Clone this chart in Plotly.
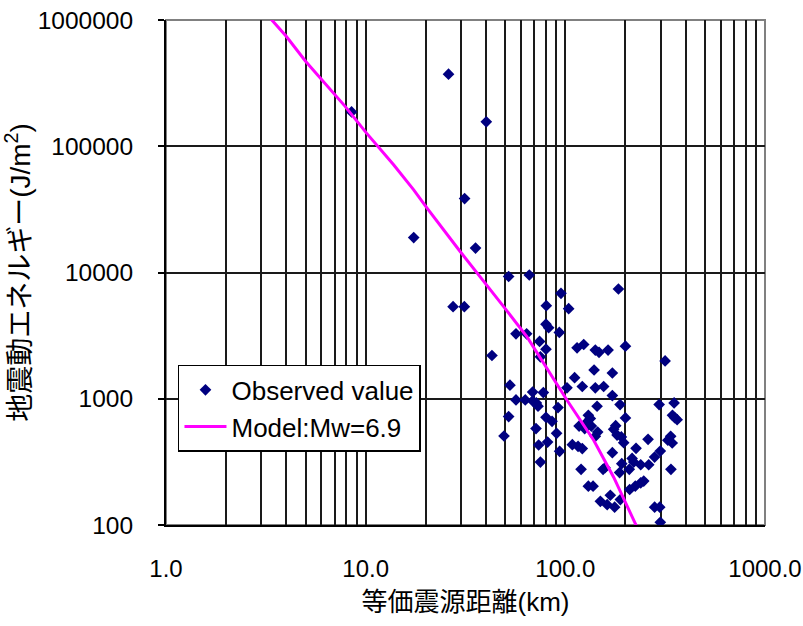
import plotly.graph_objects as go

# Observed ground-motion energy vs. equivalent hypocentral distance
obs_r = [8.5, 26.0, 40.2, 31.3, 17.4, 35.5, 27.4, 31.2, 52, 66,
         184.5, 95.1, 80.3, 103.9, 80.0, 82.5, 93.3, 56.6, 64.0, 74.3,
         80.0, 75.0, 42.9, 114.5, 123.6, 141.3, 147.5, 163.7, 200, 316,
         139.3, 172, 111.3, 121.6, 101.9, 141.3, 155.6, 52.8, 68.6, 77.6,
         172, 56.6, 63.0, 68.6, 71.6, 73.0, 91.9, 144.2, 188, 295,
         350.6, 52, 80, 85.8, 130.4, 133.4, 128.5, 117.2, 125, 135,
         145.2, 141.3, 178.7, 174.6, 181.6, 190.8, 196, 200, 71.3, 90.4,
         49.3, 259.6, 337, 326, 343, 81.5, 73.5, 108.4, 115.8, 121.6,
         226, 93.6, 172, 299, 280, 216, 220, 209, 238.5, 261.6,
         191.7, 187, 338, 119.9, 154.5, 158, 130.4, 137.7, 210, 224,
         238.5, 247, 149.8, 168, 162, 176.6, 188.6, 280, 297, 299,
         344, 353, 363, 75.0]
obs_e = [187000, 372000, 156000, 38500, 18900, 15600, 5360, 5360, 9300, 9550,
         7400, 6840, 5460, 5170, 3900, 3650, 3350, 3270, 3270, 2845,
         2470, 2150, 2200, 2530, 2690, 2430, 2330, 2430, 2610, 1995,
         1690, 1600, 1470, 1250, 1220, 1220, 1250, 1280, 1130, 1120,
         1060, 978, 978, 961, 927, 872, 851, 872, 899, 899,
         927, 722, 713, 663, 740, 696, 655, 608, 580, 608,
         545, 504, 612, 573, 516, 498, 449, 705, 580, 532,
         507, 477, 504, 469, 446, 454, 430, 433, 420, 403,
         405, 383, 374, 385, 345, 337, 315, 276, 300, 300,
         306, 260, 276, 276, 276, 284, 203, 203, 191, 203,
         216, 223, 154, 172, 145, 138.5, 159, 138.5, 138.5, 105,
         740, 708, 683, 315]

# Model curve (Mw = 6.9)
model_r = [3.2, 4.0, 5.0, 6.14, 7.89, 10.1, 13.8, 17.4, 20.3, 29.8,
           36.7, 49.1, 64.3, 77.8, 102, 138.7, 174.6, 228.6]
model_e = [1107000, 743000, 471000, 327000, 207000, 127000, 71300, 45200, 32400, 14600,
           9680, 5360, 3090, 1900, 973, 469, 239, 96]

x_tickvals = [m * 10 ** d for d in range(3) for m in range(1, 10)] + [1000]
x_ticktext = [("%.1f" % v) if v in (1, 10, 100, 1000) else "" for v in x_tickvals]
y_tickvals = [100, 1000, 10000, 100000, 1000000]
y_ticktext = ["100", "1000", "10000", "100000", "1000000"]

FONT = "Liberation Sans, Noto Sans CJK JP, sans-serif"

fig = go.Figure()
fig.add_trace(go.Scatter(
    x=obs_r, y=obs_e, mode="markers", name="Observed value",
    marker=dict(symbol="diamond", size=9, color="#000080", line=dict(width=0)),
))
fig.add_trace(go.Scatter(
    x=model_r, y=model_e, mode="lines", name="Model:Mw=6.9",
    line=dict(color="#FF00FF", width=3),
))

# plot-area frame (top/right edges)
fig.add_shape(type="rect", xref="paper", yref="paper", x0=0, y0=0, x1=1, y1=1,
              line=dict(color="#808080", width=2), layer="between")

fig.update_layout(
    width=803, height=626,
    margin=dict(l=166, r=38, t=20, b=101),
    paper_bgcolor="white", plot_bgcolor="white",
    font=dict(family=FONT, size=24, color="black"),
    showlegend=True,
    legend=dict(
        x=0.02, y=0.317, xanchor="left", yanchor="top",
        bgcolor="white", bordercolor="black", borderwidth=1.5,
        font=dict(family=FONT, size=26, color="black"),
        tracegroupgap=0, itemwidth=42,
    ),
    xaxis=dict(
        type="log", range=[0, 3], automargin=False,
        tickmode="array", tickvals=x_tickvals, ticktext=x_ticktext,
        ticklabeloverflow="allow",
        showgrid=True, gridcolor="#1a1a1a", gridwidth=1.5,
        showline=True, linecolor="black", linewidth=2,
        ticks="", ticklabelstandoff=21,
        tickfont=dict(size=24),
        title=dict(text="等価震源距離(km)", font=dict(size=26), standoff=12),
        zeroline=False,
    ),
    yaxis=dict(
        type="log", range=[2, 6], automargin=False,
        tickmode="array", tickvals=y_tickvals, ticktext=y_ticktext,
        ticklabeloverflow="allow",
        showgrid=True, gridcolor="#1a1a1a", gridwidth=1.5,
        showline=True, linecolor="black", linewidth=2,
        ticks="outside", ticklen=6, tickwidth=2, tickcolor="black",
        ticklabelstandoff=20,
        tickfont=dict(size=24.5),
        title=dict(text="地震動エネルギー(J/m<sup>2</sup>)", font=dict(size=28), standoff=8),
        zeroline=False,
    ),
)

fig.write_html("out.html")
